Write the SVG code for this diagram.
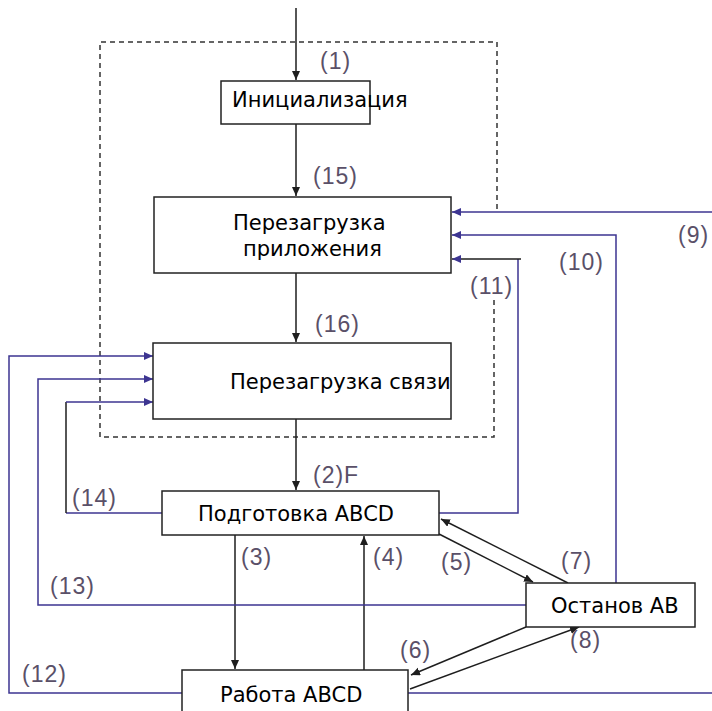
<svg xmlns="http://www.w3.org/2000/svg" width="712" height="711" viewBox="0 0 712 711">
  <style>
    .box { fill: #ffffff; stroke: #222222; stroke-width: 1.5; }
    .txt { font-family: "DejaVu Sans", sans-serif; font-size: 21px; fill: #000000; }
    .lbl { font-family: "Liberation Sans", Arial, sans-serif; font-size: 23px; fill: #5a5068; letter-spacing: 1px; }
    .blk { fill: none; stroke: #1e1e1e; stroke-width: 1.5; }
    .pur { fill: none; stroke: #3d3591; stroke-width: 1.5; }
    .dash { fill: none; stroke: #333333; stroke-width: 1.5; stroke-dasharray: 5 4; }
  </style>
  <defs>
    <marker id="ahB" markerUnits="userSpaceOnUse" markerWidth="10" markerHeight="10" refX="9" refY="4" orient="auto">
      <path d="M0,0 L9,4 L0,8 z" fill="#1e1e1e"/>
    </marker>
    <marker id="ahP" markerUnits="userSpaceOnUse" markerWidth="10" markerHeight="10" refX="9" refY="4" orient="auto">
      <path d="M0,0 L9,4 L0,8 z" fill="#3d3591"/>
    </marker>
  </defs>

  <rect width="712" height="711" fill="#ffffff"/>

  <!-- dashed boundary around the start-up states -->
  <path class="dash" d="M497,209 V42 H100 V437 H494 V297"/>

  <g id="connectors">
    <!-- vertical chain -->
    <path class="blk" d="M296,8 V80" marker-end="url(#ahB)"/>
    <path class="blk" d="M296,123 V196" marker-end="url(#ahB)"/>
    <path class="blk" d="M296,273 V342" marker-end="url(#ahB)"/>
    <path class="blk" d="M296,419 V490" marker-end="url(#ahB)"/>
    <!-- (3) / (4) -->
    <path class="blk" d="M235,535 V669" marker-end="url(#ahB)"/>
    <path class="blk" d="M364,670 V536" marker-end="url(#ahB)"/>
    <!-- (5) / (7) -->
    <path class="blk" d="M439,534 L533,582" marker-end="url(#ahB)"/>
    <path class="blk" d="M568,583 L441,519" marker-end="url(#ahB)"/>
    <!-- (6) / (8) -->
    <path class="blk" d="M526,627 L411,675" marker-end="url(#ahB)"/>
    <path class="blk" d="M410,689 L579,627" marker-end="url(#ahB)"/>
    <!-- (9) -->
    <path class="pur" d="M712,212 H452" marker-end="url(#ahP)"/>
    <path class="pur" d="M408,693 H712"/>
    <!-- (10) -->
    <path class="pur" d="M616,583 V235 H452" marker-end="url(#ahP)"/>
    <!-- (11) -->
    <path class="pur" d="M439,513 H518 V259"/>
    <path class="blk" d="M521,259 H452" marker-end="url(#ahP)"/>
    <!-- (12) -->
    <path class="pur" d="M182,693 H9 V356 H153" marker-end="url(#ahP)"/>
    <!-- (13) -->
    <path class="pur" d="M526,605 H38 V379 H153" marker-end="url(#ahP)"/>
    <!-- (14) -->
    <path class="pur" d="M162,513 H66"/>
    <path class="blk" d="M66,513 V402"/>
    <path class="pur" d="M66,402 H153" marker-end="url(#ahP)"/>
  </g>

  <g id="init">
    <rect class="box" x="221" y="81" width="149" height="43"/>
    <text class="txt" x="232" y="107">Инициализация</text>
  </g>

  <g id="app-reset">
    <rect class="box" x="154" y="197" width="297" height="76"/>
    <text class="txt" x="233" y="230">Перезагрузка</text>
    <text class="txt" x="243" y="256">приложения</text>
  </g>

  <g id="comm-reset">
    <rect class="box" x="153" y="343" width="298" height="76"/>
    <text class="txt" x="230" y="389">Перезагрузка связи</text>
  </g>

  <g id="prepare">
    <rect class="box" x="162" y="491" width="277" height="44"/>
    <text class="txt" x="198" y="521">Подготовка ABCD</text>
  </g>

  <g id="stop">
    <rect class="box" x="526" y="583" width="169" height="44"/>
    <text class="txt" x="551" y="613">Останов AB</text>
  </g>

  <g id="run">
    <rect class="box" x="182" y="670" width="226" height="50"/>
    <text class="txt" x="220" y="702">Работа ABCD</text>
  </g>

  <g id="labels">
    <text class="lbl" x="320" y="69">(1)</text>
    <text class="lbl" x="313" y="184">(15)</text>
    <text class="lbl" x="315" y="332">(16)</text>
    <text class="lbl" x="313" y="483">(2)F</text>
    <text class="lbl" x="678" y="243">(9)</text>
    <text class="lbl" x="559" y="270">(10)</text>
    <text class="lbl" x="470" y="294">(11)</text>
    <text class="lbl" x="72" y="506">(14)</text>
    <text class="lbl" x="50" y="594">(13)</text>
    <text class="lbl" x="22" y="682">(12)</text>
    <text class="lbl" x="241" y="565">(3)</text>
    <text class="lbl" x="373" y="565">(4)</text>
    <text class="lbl" x="441" y="570">(5)</text>
    <text class="lbl" x="561" y="569">(7)</text>
    <text class="lbl" x="400" y="658">(6)</text>
    <text class="lbl" x="570" y="648">(8)</text>
  </g>
</svg>
